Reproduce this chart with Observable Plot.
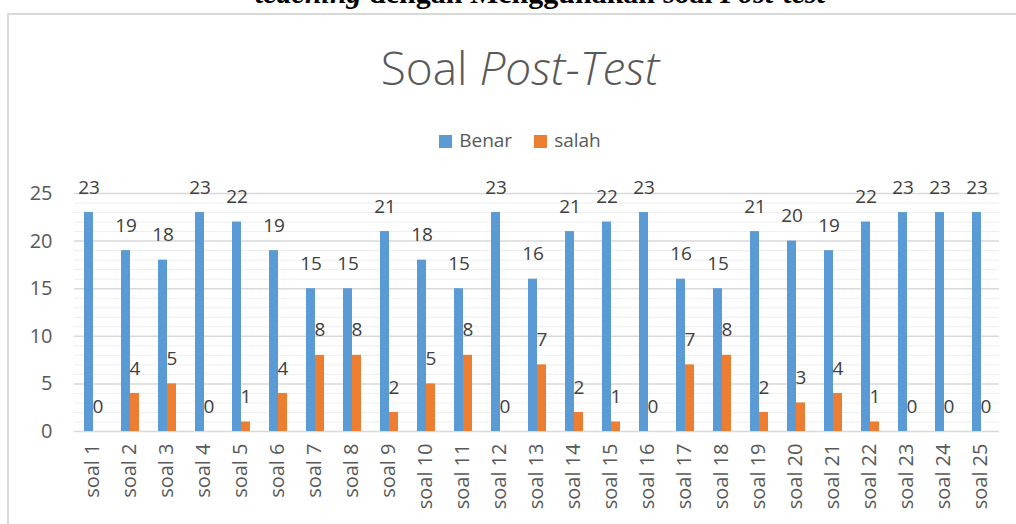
<!DOCTYPE html>
<html>
<head>
<meta charset="utf-8">
<script src="https://cdn.jsdelivr.net/npm/d3@7"></script>
<script src="https://cdn.jsdelivr.net/npm/@observablehq/plot@0.6"></script>
<style>
  html, body { margin: 0; padding: 0; background: #fff; }
  #page { position: relative; width: 1016px; height: 524px; overflow: hidden; background: #fff; }
  #cap { position: absolute; left: 0; width: 1080px; top: -22px; text-align: center; font-family: "Liberation Serif", serif; font-weight: bold; font-size: 30px; line-height: 30px; color: #000; white-space: nowrap; }
  #frame { position: absolute; left: 7px; top: 13px; width: 1100px; height: 600px; border: 2px solid #d9d9d9; box-sizing: border-box; }
  #title { position: absolute; left: 0; width: 1040px; top: 38px; text-align: center; font-family: "Open Sans", sans-serif; font-weight: 300; font-size: 46px; line-height: 58px; color: #595959; }
  #legend { position: absolute; left: 0; width: 1040px; top: 127px; text-align: center; font-family: "Open Sans", sans-serif; font-size: 19px; line-height: 26px; color: #595959; }
  #legend span.item { display: inline-block; margin: 0 11px; }
  #legend span.sw { display: inline-block; width: 13px; height: 13px; margin-right: 7px; vertical-align: -1px; }
  #chart { position: absolute; left: 0; top: 170px; }
</style>
</head>
<body>
<div id="page">
  <div id="cap"><i>teaching</i> dengan Menggunakan soal <i>Post-test</i></div>
  <div id="frame"></div>
  <div id="title">Soal <i>Post-Test</i></div>
  <div id="legend"></div>
  <div id="chart"></div>
</div>
<script>
const categories = ["soal 1","soal 2","soal 3","soal 4","soal 5","soal 6","soal 7","soal 8","soal 9","soal 10","soal 11","soal 12","soal 13","soal 14","soal 15","soal 16","soal 17","soal 18","soal 19","soal 20","soal 21","soal 22","soal 23","soal 24","soal 25"];
const benar = [23,19,18,23,22,19,15,15,21,18,15,23,16,21,22,23,16,15,21,20,19,22,23,23,23];
const salah = [0,4,5,0,1,4,8,8,2,5,8,0,7,2,1,0,7,8,2,3,4,1,0,0,0];
const seriesNames = ["Benar","salah"];
const seriesColors = ["#5b9bd5","#ed7d31"];
const yTicks = [0,5,10,15,20,25];
const minorTicks = [1,2,3,4,6,7,8,9,11,12,13,14,16,17,18,19,21,22,23,24];

const data = [];
categories.forEach((c, i) => {
  data.push({cat: c, series: "Benar", value: benar[i]});
  data.push({cat: c, series: "salah", value: salah[i]});
});

// legend
const leg = document.getElementById("legend");
seriesNames.forEach((s, i) => {
  const it = document.createElement("span");
  it.className = "item";
  const sw = document.createElement("span");
  sw.className = "sw";
  sw.style.background = seriesColors[i];
  it.appendChild(sw);
  it.appendChild(document.createTextNode(s));
  leg.appendChild(it);
});

const chart = Plot.plot({
  width: 1016,
  height: 354,
  marginTop: 23,
  marginBottom: 93,
  marginLeft: 72,
  marginRight: 15,
  style: {fontFamily: "'Open Sans', sans-serif", fontSize: "20px", color: "#595959", background: "transparent"},
  fx: {domain: categories, padding: 0, label: null, tickRotate: -90, tickSize: 0, tickPadding: 12},
  x: {domain: seriesNames, paddingInner: 0, paddingOuter: 1, axis: null},
  y: {domain: [0, 25], ticks: yTicks, label: null, tickSize: 0, tickPadding: 22},
  color: {domain: seriesNames, range: seriesColors},
  marks: [
    Plot.ruleY(minorTicks, {stroke: "#eeeeee", strokeWidth: 1}),
    Plot.ruleY(yTicks, {stroke: "#d9d9d9", strokeWidth: 1.5}),
    Plot.barY(data, {fx: "cat", x: "series", y: "value", fill: "series"}),
    Plot.text(data, {fx: "cat", x: "series", y: "value", text: d => String(d.value), dy: -25, fill: "#404040", fontSize: 19})
  ]
});
document.getElementById("chart").appendChild(chart);
</script>
</body>
</html>
